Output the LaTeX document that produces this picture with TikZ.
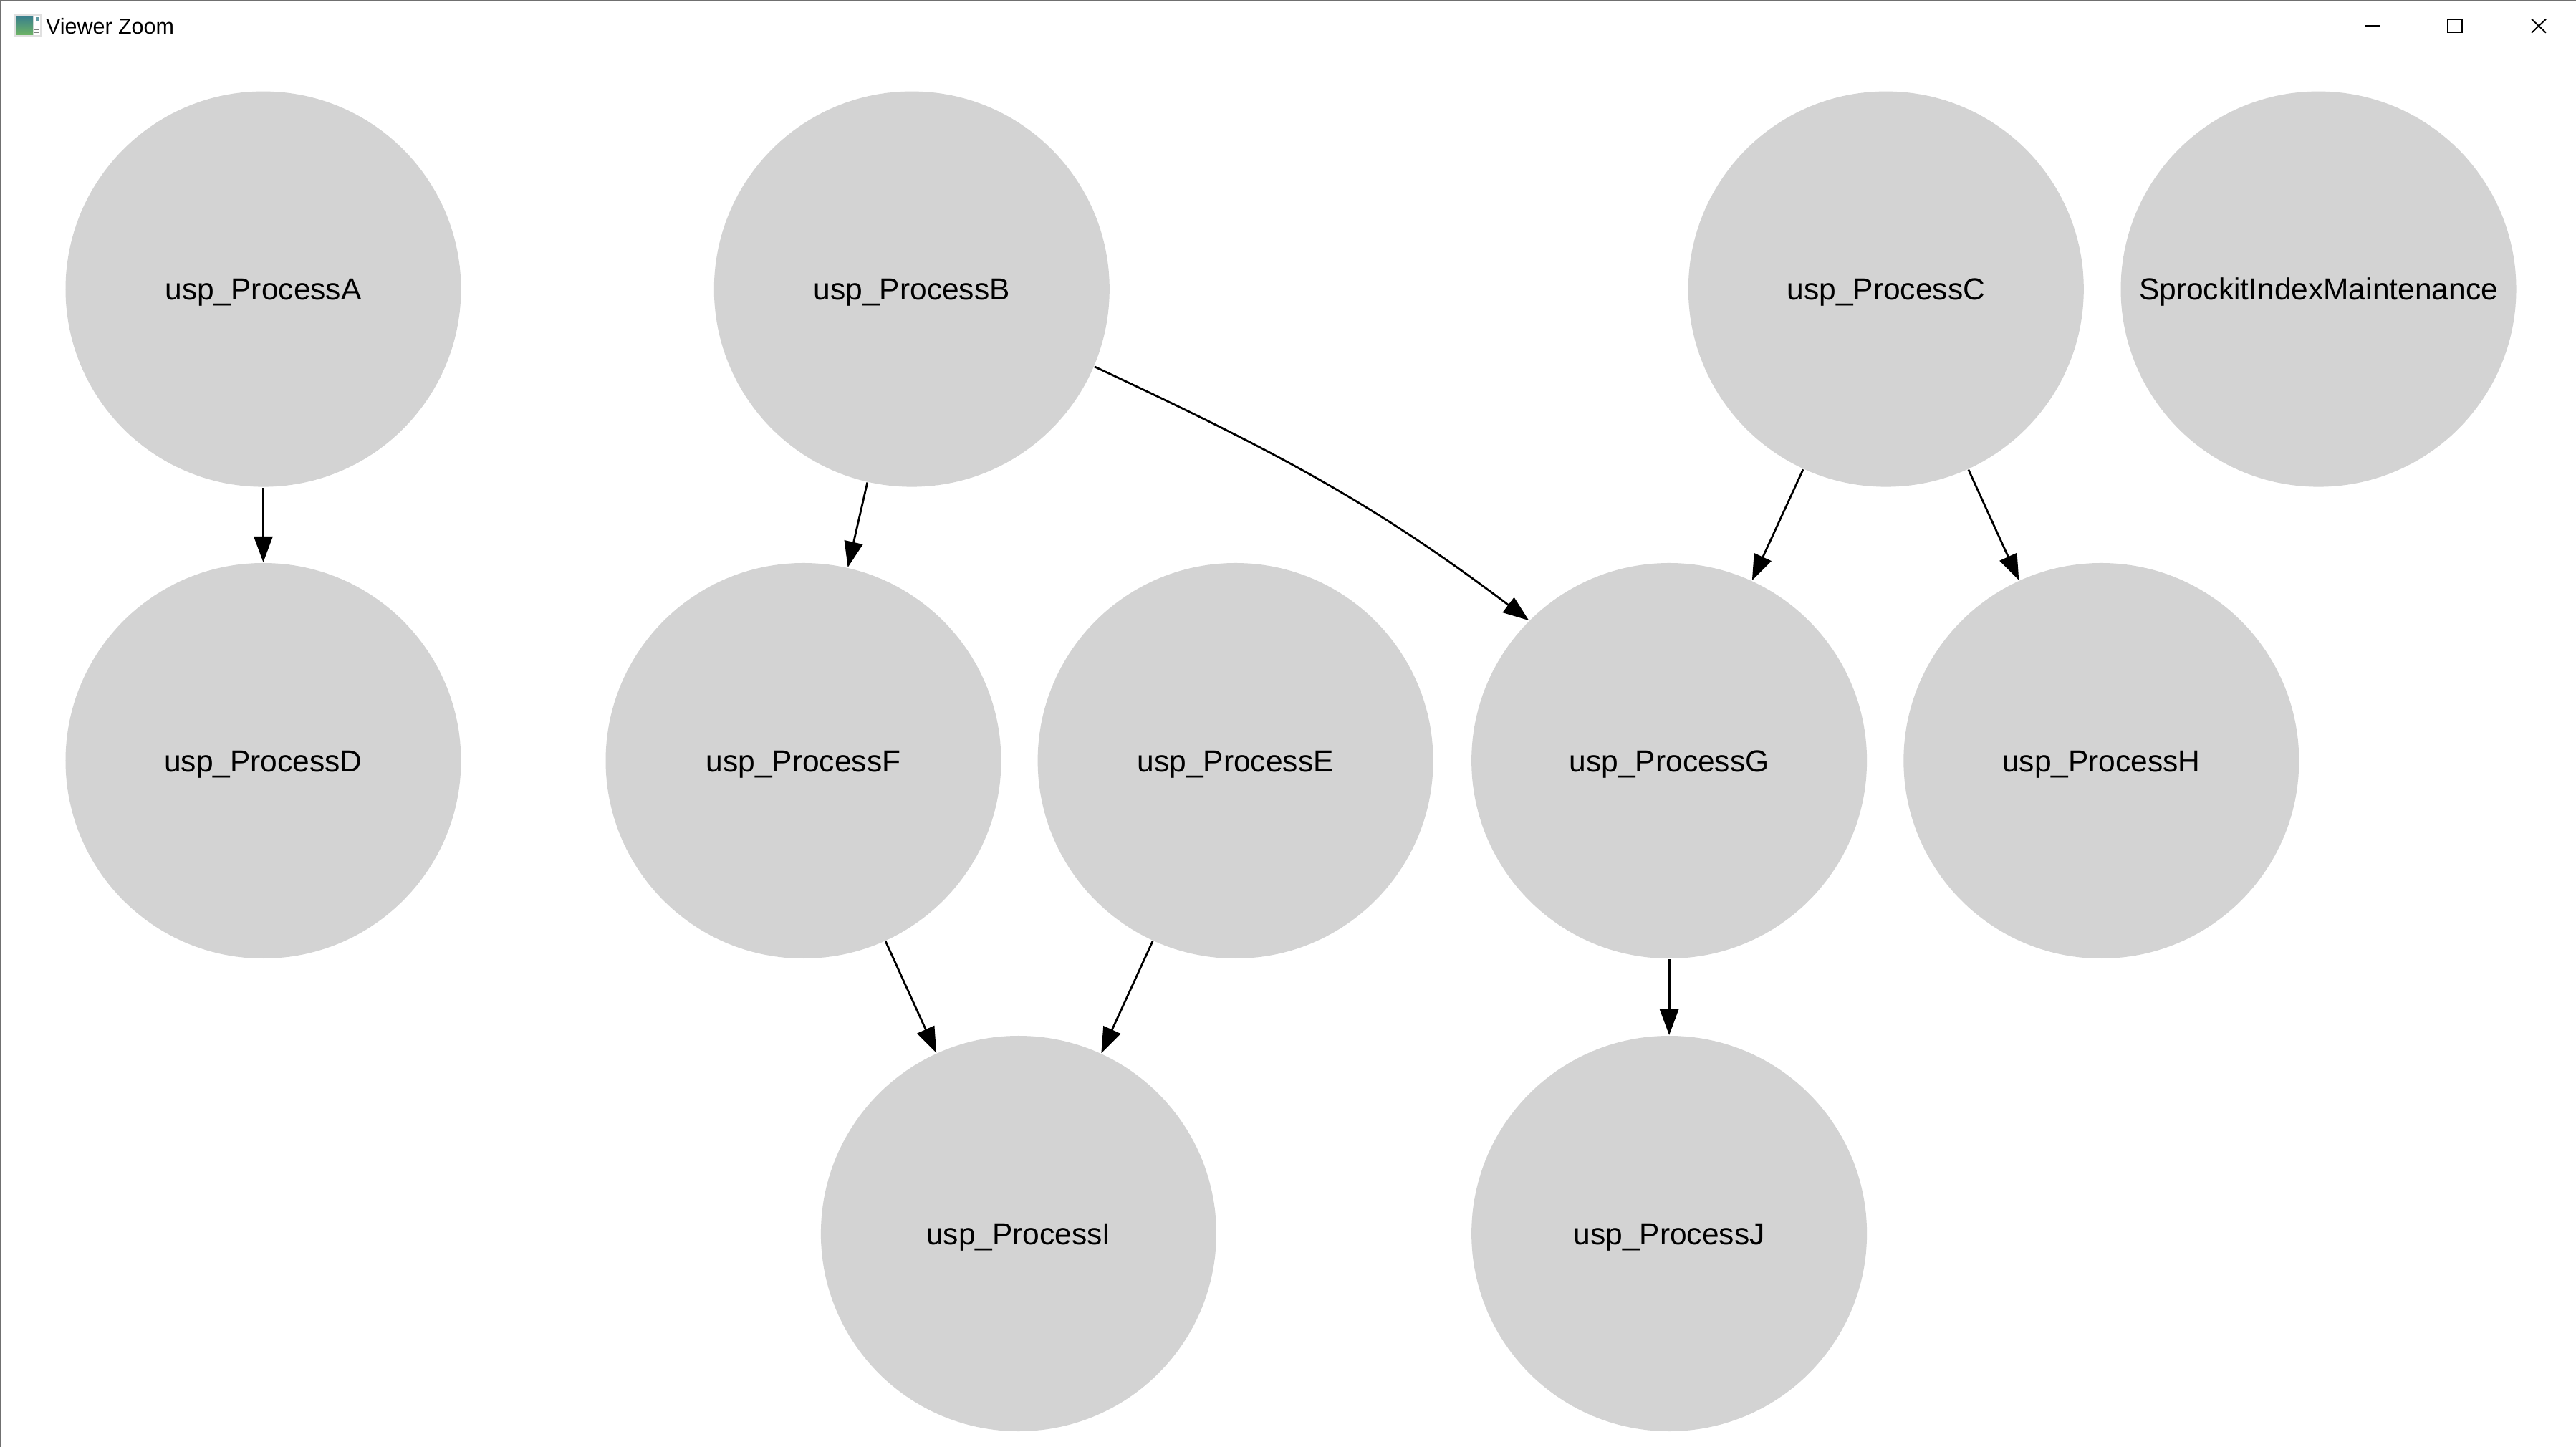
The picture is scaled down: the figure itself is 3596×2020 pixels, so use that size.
\documentclass[tikz,border=0pt]{standalone}
\usepackage{fontspec}
\setmainfont{Liberation Sans}
\usetikzlibrary{arrows.meta}
\definecolor{nodegray}{RGB}{211,211,211}
\definecolor{framegray}{RGB}{112,112,112}
\definecolor{icontealc}{RGB}{58,128,140}
\definecolor{icongreen}{RGB}{110,180,100}
\begin{document}
\begin{tikzpicture}[x=0.2pt,y=-0.2pt,
  proc/.style={circle, fill=nodegray, draw=none, minimum size=110.4pt, inner sep=0pt,
    font=\fontsize{8.5pt}{10pt}\selectfont, text height=6.09pt, text depth=0pt},
  edge/.style={line width=0.55pt, -{Triangle[length=7.2pt,width=5.2pt]}},
  winbtn/.style={line width=0.38pt, black},
]
\useasboundingbox (0,0) rectangle (3596,2020);
\fill[white] (0,0) rectangle (3596,2020);
% window frame
\fill[framegray] (0,0) rectangle (3596,2.5);
\fill[framegray] (0,0) rectangle (2.5,2020);
% title bar icon
\filldraw[fill=nodegray!70, draw=gray, line width=0.2pt] (19,19.5) rectangle (58,52);
\shade[top color=icontealc, bottom color=icongreen] (22,23) rectangle (46,49);
\fill[white] (47,23) rectangle (56,49);
\fill[icontealc!80] (50,24) rectangle (55,30);
\foreach \yy in {34,38,42,46} \draw[gray, line width=0.2pt] (48,\yy) -- (55,\yy);
\node[anchor=base west, inner sep=0pt, font=\fontsize{6.1pt}{7pt}\selectfont] (title) at (63,48) {Viewer Zoom};
% window buttons
\coordinate (minA) at (3302,35.7);
\coordinate (minB) at (3322,35.7);
\draw[winbtn] (minA) -- (minB);
\coordinate (maxA) at (3417,26.7);
\coordinate (maxB) at (3437,45.5);
\draw[winbtn] (maxA) rectangle (maxB);
\coordinate (clA) at (3534,26.7);
\coordinate (clB) at (3554,45.7);
\coordinate (clC) at (3534,45.7);
\coordinate (clD) at (3554,26.7);
\draw[winbtn] (clA) -- (clB);
\draw[winbtn] (clC) -- (clD);
% nodes
\node[proc] (A) at (367.5,403.6) {usp\_ProcessA};
\node[proc] (B) at (1272.8,403.6) {usp\_ProcessB};
\node[proc] (C) at (2632.8,403.6) {usp\_ProcessC};
\node[proc] (S) at (3236.5,403.6) {SprockitIndexMaintenance};
\node[proc] (D) at (367.5,1062) {usp\_ProcessD};
\node[proc] (F) at (1121.5,1062) {usp\_ProcessF};
\node[proc] (E) at (1724.6,1062) {usp\_ProcessE};
\node[proc] (G) at (2330.1,1062) {usp\_ProcessG};
\node[proc] (H) at (2933.3,1062) {usp\_ProcessH};
\node[proc] (I) at (1421.9,1722) {usp\_ProcessI};
\node[proc] (J) at (2330.1,1722) {usp\_ProcessJ};
% edges
\draw[edge] (A) -- (D);
\draw[edge] (B) -- (F);
\draw[edge] (B.-23) .. controls +(250,117) and +(-220,-166) .. (G.135.6);
\draw[edge] (C) -- (G);
\draw[edge] (C) -- (H);
\draw[edge] (F) -- (I);
\draw[edge] (E) -- (I);
\draw[edge] (G) -- (J);
\end{tikzpicture}
\end{document}
